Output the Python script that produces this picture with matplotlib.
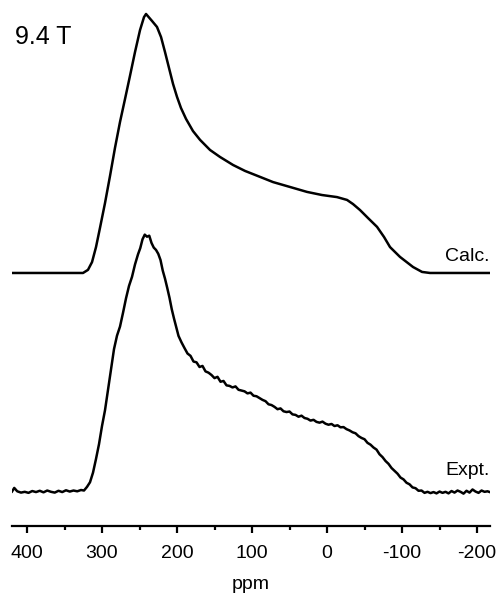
import matplotlib
matplotlib.use("Agg")
import matplotlib.pyplot as plt

plt.rcParams['font.family'] = ['Liberation Sans', 'DejaVu Sans']
plt.rcParams['axes.unicode_minus'] = False

# calculated spectrum (ppm, relative intensity)
calc_ppm = [420, 325.3, 318.7, 313.3, 308, 302.7, 296, 289.3, 282.7, 276, 269.3, 262.7,
            256, 249.3, 244, 241.3, 233.3, 226.7, 221.3, 216, 210.7, 205.3, 200, 194.7,
            188, 178.7, 169.3, 156, 142.7, 125.3, 109.3, 89.3, 72, 49.3, 26.7, 6.7, -13.3,
            -26.7, -34.7, -44, -54.7, -66.7, -76, -84, -97.3, -114.7, -126.7, -137.3, -217.3]
calc_int = [0, 0, 1.2, 4.2, 10.0, 17.4, 27.0, 37.5, 48.3, 58.3, 67.2, 76.1,
            85.3, 93.8, 98.8, 100.0, 97.3, 95.0, 91.1, 85.3, 79.2, 73.0, 68.0, 63.7,
            59.5, 54.8, 51.4, 47.5, 44.8, 41.7, 39.4, 37.1, 35.1, 33.2, 31.3, 30.1, 29.3,
            28.2, 26.6, 24.3, 21.2, 17.8, 13.9, 10.0, 6.2, 2.3, 0.4, 0, 0]

# experimental spectrum
expt_ppm = [420, 417, 413, 408, 403, 398, 393, 388, 383, 378, 373, 368, 363, 358, 353,
            348, 343, 338, 333, 328, 324, 320, 316, 312, 308, 304, 300, 296, 292, 288,
            284, 280, 276, 272, 268, 264, 260, 256, 252, 249, 246, 243, 240, 237, 234,
            231, 228, 225, 222, 219, 216, 213, 210, 207, 204, 201, 198, 194, 190, 186,
            182, 178, 174, 170, 166, 162, 158, 154, 150, 146, 142, 138, 134, 130, 126,
            122, 118, 114, 110, 106, 102, 98, 94, 90, 86, 82, 78, 74, 70, 66,
            62, 58, 54, 50, 46, 42, 38, 34, 30, 26, 22, 18, 14, 10, 6,
            2, -2, -6, -10, -14, -18, -22, -26, -30, -34, -38, -42, -46, -50, -54,
            -58, -62, -66, -70, -74, -78, -82, -86, -90, -94, -98, -102, -106, -110, -114,
            -118, -122, -126, -130, -134, -138, -142, -146, -150, -154, -158, -162, -166, -170, -174,
            -178, -182, -186, -190, -194, -198, -202, -206, -210, -214, -217]
expt_int = [0.2, 1.6, 0.3, -0.2, 0.1, -0.3, 0.4, 0.0, 0.5, -0.1, 0.6, 0.1, -0.2, 0.5, 0.0,
            0.7, 0.2, 0.6, 0.3, 0.8, 0.6, 2.0, 3.8, 7.5, 12.8, 18.5, 25.5, 31.6, 39.5, 47.6,
            55.2, 60.4, 63.9, 69.2, 74.8, 79.6, 83.1, 87.9, 91.8, 94.2, 97.6, 99.4, 98.6, 99.0, 96.2,
            94.4, 93.5, 92.0, 89.6, 85.5, 82.4, 78.8, 75.0, 70.6, 67.0, 63.6, 60.3, 57.8, 55.6, 53.5,
            52.6, 50.4, 50.1, 48.3, 48.7, 46.6, 46.1, 45.2, 44.0, 44.5, 42.6, 42.9, 41.2, 41.0, 40.4,
            40.8, 39.5, 39.2, 38.9, 38.1, 38.4, 37.2, 37.0, 36.3, 35.6, 35.1, 33.9, 33.6, 32.9, 32.0,
            32.3, 31.2, 30.9, 31.1, 30.0, 29.8, 29.1, 29.5, 28.6, 28.3, 27.6, 27.9, 27.1, 26.8, 27.2,
            26.4, 26.0, 26.3, 25.5, 25.8, 25.0, 25.1, 24.3, 23.8, 23.1, 22.7, 21.6, 20.9, 20.4, 19.0,
            18.3, 17.2, 16.4, 14.6, 13.5, 12.0, 10.9, 9.3, 8.2, 7.1, 5.6, 4.9, 3.6, 3.0, 1.8,
            1.5, 0.5, 0.6, -0.3, 0.1, -0.4, 0.0, -0.5, 0.2, -0.3, 0.1, -0.5, 0.4, -0.2, 0.6,
            0.1, -0.6, 0.5, -0.2, 1.0, 0.2, -0.3, 0.6, 0.1, 0.3, 0.0]

calc_offset = 84.6
tick_major = [400, 300, 200, 100, 0, -100, -200]
tick_minor = [350, 250, 150, 50, -50, -150]

fig = plt.figure(figsize=(5, 5.98), dpi=100)
ax = fig.add_axes([0.024, 0.1204, 0.956, 0.8796])

ax.plot(expt_ppm, expt_int, color='black', lw=1.8, solid_joinstyle='round')
ax.plot(calc_ppm, [v + calc_offset for v in calc_int], color='black', lw=1.8,
        solid_joinstyle='round')

ax.set_xlim(420, -217.3)
ax.set_ylim(-13.1, 190)

for s in ['top', 'left', 'right']:
    ax.spines[s].set_visible(False)
ax.spines['bottom'].set_linewidth(1.6)
ax.set_yticks([])
ax.set_xticks(tick_major)
ax.set_xticks(tick_minor, minor=True)
ax.tick_params(axis='x', which='major', length=5, width=1.6, pad=9, labelsize=14)
ax.tick_params(axis='x', which='minor', length=3, width=1.6)
ax.set_xlabel('ppm', fontsize=14, labelpad=10)

ax.text(416, 175.7, '9.4 T', fontsize=18, va='center', ha='left')
ax.text(-217, 91.1, 'Calc.', fontsize=14, va='center', ha='right')
ax.text(-217, 8.5, 'Expt.', fontsize=14, va='center', ha='right')

fig.savefig('out.png', dpi=100)
